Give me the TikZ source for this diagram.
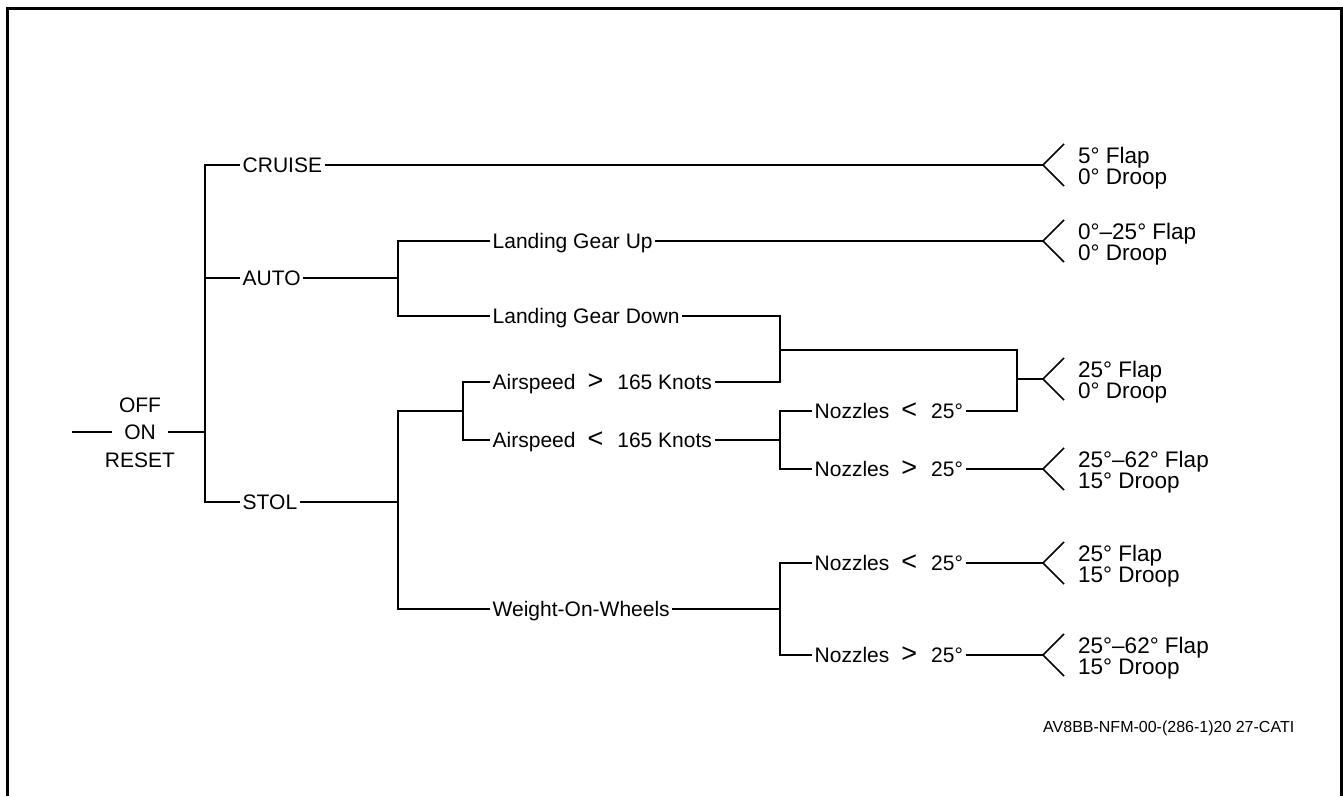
\documentclass[tikz,border=0pt]{standalone}
\usepackage{fontspec}
\setmainfont{Liberation Sans}
\usetikzlibrary{positioning}
\newcommand{\cmp}[1]{\hspace{12pt}{\fontsize{27}{0}\selectfont #1}\hspace{14pt}}
\tikzset{
    mode/.style={font=\fontsize{21}{24}\selectfont, inner sep=2.5pt, text height=15pt, text depth=0pt, anchor=west},
    cond/.style={font=\fontsize{21}{24}\selectfont, inner sep=2.5pt, text height=15pt, text depth=0pt, anchor=west},
    switch/.style={font=\fontsize{21}{24}\selectfont, inner xsep=12pt, inner ysep=1pt, text height=15pt, text depth=0pt},
    result/.style={font=\fontsize{22.5}{19}\selectfont, align=left, inner sep=0pt},
    wire/.style={line width=1.6pt},
    frame/.style={line width=3pt},
    tag/.style={font=\fontsize{16}{18}\selectfont, anchor=west, inner sep=0pt},
}

\begin{document}
\begin{tikzpicture}[x=1pt, y=-1pt]
    \useasboundingbox (0,0) rectangle (1343,796);
    \draw[frame] (7,796) -- (7,8) -- (1341,8) -- (1341,796);

    % Switch positions
    \node[switch] (on) at (140,432) {ON};
    \node[switch] (off) at (140,405) {OFF};
    \node[switch] (reset) at (140,460) {RESET};
    \coordinate (in) at (72,432);
    \coordinate (trk) at (205,432);

    % Modes
    \node[mode] (cruise) at (240,165) {CRUISE};
    \node[mode] (auto) at (240,278) {AUTO};
    \node[mode] (stol) at (240,502) {STOL};

    % Conditions
    \node[cond] (gearup) at (490,241) {Landing Gear Up};
    \node[cond] (geardn) at (490,316) {Landing Gear Down};
    \node[cond] (asphi) at (490,382) {Airspeed\cmp{>}165 Knots};
    \node[cond] (asplo) at (490,440) {Airspeed\cmp{<}165 Knots};
    \node[cond] (wow) at (490,609) {Weight-On-Wheels};
    \node[cond] (noz1) at (812,411) {Nozzles\cmp{<}25°};
    \node[cond] (noz2) at (812,469) {Nozzles\cmp{>}25°};
    \node[cond] (noz3) at (812,563) {Nozzles\cmp{<}25°};
    \node[cond] (noz4) at (812,655) {Nozzles\cmp{>}25°};

    % Junctions and forks
    \coordinate (ja) at (398,278);
    \coordinate (js) at (398,502);
    \coordinate (jsp) at (463,411);
    \coordinate (jg) at (780,350);
    \coordinate (jn) at (1017,379);
    \coordinate (jl) at (780,440);
    \coordinate (jw) at (780,609);
    \coordinate (f1) at (1043,165);
    \coordinate (f2) at (1043,241);
    \coordinate (f3) at (1043,379);
    \coordinate (f4) at (1043,469);
    \coordinate (f5) at (1043,563);
    \coordinate (f6) at (1043,655);

    % Wiring
    \draw[wire] (in) -- (on.west);
    \draw[wire] (on.east) -- (trk);
    \draw[wire] (cruise.west) -| (trk) |- (stol.west);
    \draw[wire] (auto.west) -- (auto.west -| trk);
    \draw[wire] (cruise.east) -- (f1);
    \draw[wire] (auto.east) -- (ja);
    \draw[wire] (gearup.west) -| (ja) |- (geardn.west);
    \draw[wire] (gearup.east) -- (f2);
    \draw[wire] (geardn.east) -| (jg) |- (asphi.east);
    \draw[wire] (jg) -| (jn) |- (noz1.east);
    \draw[wire] (jn) -- (f3);
    \draw[wire] (stol.east) -- (js);
    \draw[wire] (jsp) -| (js) |- (wow.west);
    \draw[wire] (asphi.west) -| (jsp) |- (asplo.west);
    \draw[wire] (asplo.east) -- (jl);
    \draw[wire] (noz1.west) -| (jl) |- (noz2.west);
    \draw[wire] (noz2.east) -- (f4);
    \draw[wire] (wow.east) -- (jw);
    \draw[wire] (noz3.west) -| (jw) |- (noz4.west);
    \draw[wire] (noz3.east) -- (f5);
    \draw[wire] (noz4.east) -- (f6);

    % Flap and droop settings
    \foreach \f/\txt [count=\i] in {f1/{5° Flap\\0° Droop}, f2/{0°–25° Flap\\0° Droop}, f3/{25° Flap\\0° Droop}, f4/{25°–62° Flap\\15° Droop}, f5/{25° Flap\\15° Droop}, f6/{25°–62° Flap\\15° Droop}} {
        \draw[wire] (\f) -- ++(21,-21) (\f) -- ++(21,21);
        \node[result, right=35pt of \f, anchor=west, yshift=-3pt] (res\i) {\txt};
    }

    \node[tag] (code) at (1043,728) {AV8BB-NFM-00-(286-1)20 27-CATI};
\end{tikzpicture}
\end{document}
